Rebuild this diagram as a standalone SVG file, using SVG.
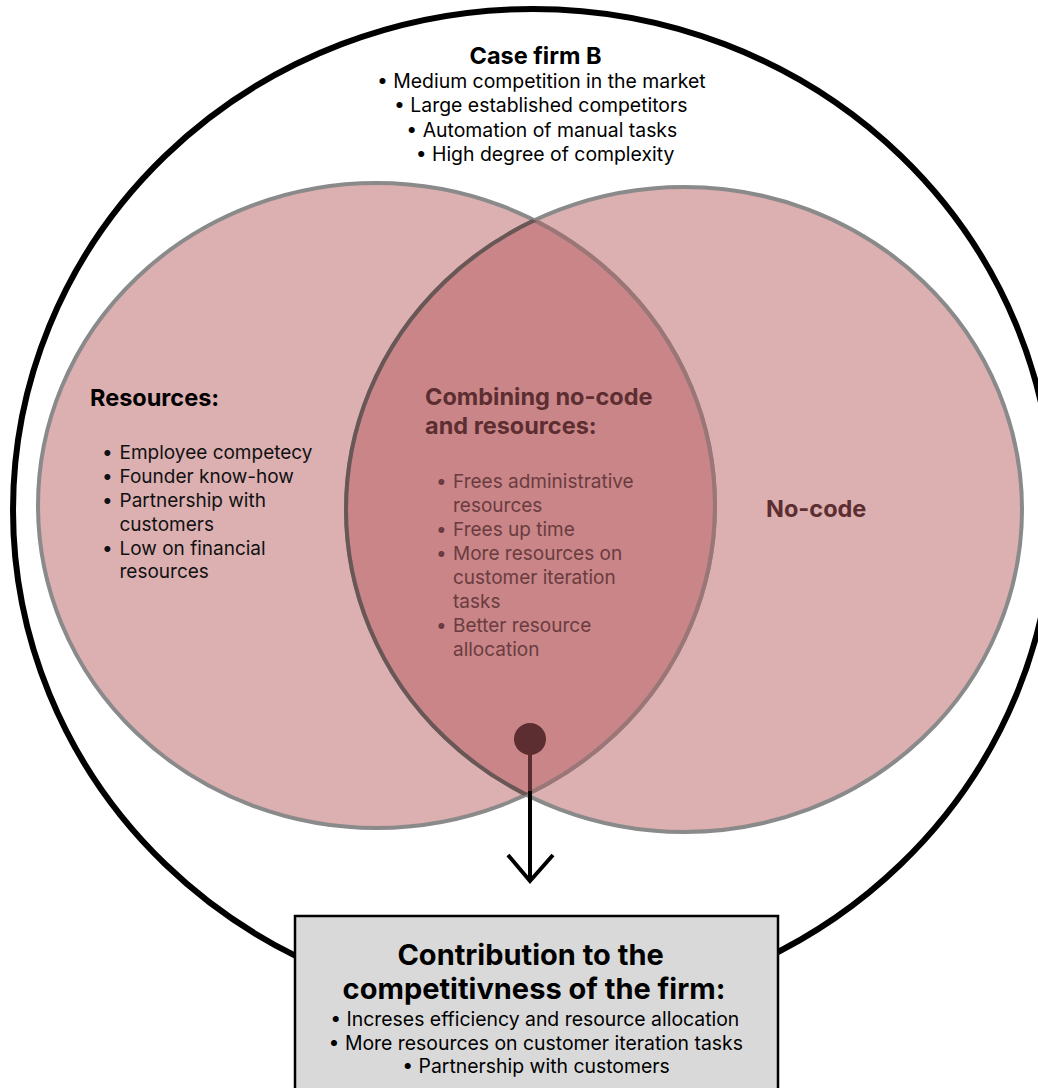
<svg xmlns="http://www.w3.org/2000/svg" width="1038" height="1088" viewBox="0 0 1038 1088">
  <defs>
    <style>
      text { font-family: Inter, "Noto Sans", "Liberation Sans", sans-serif; }
      .ttl { font-weight: 700; fill: #000; }
      .body { font-size: 19.4px; fill: #000; }
      .list { font-size: 19px; fill: #111; }
      .maroon { fill: #5c2e31; }
      .lens-body { font-size: 19px; fill: #6a3c3f; }
      .set { fill: #dcafb1; }
      .set-edge { fill: none; stroke: #8a8a8a; stroke-width: 4; }
    </style>
    <clipPath id="inLeft">
      <ellipse cx="376.5" cy="505.5" rx="338.5" ry="322.5"/>
    </clipPath>
    <clipPath id="inRight">
      <ellipse cx="684" cy="509.5" rx="338" ry="322.5"/>
    </clipPath>
  </defs>

  <rect width="1038" height="1088" fill="#fff"/>

  <!-- outer boundary: the firm -->
  <g id="firm">
    <ellipse cx="533" cy="510" rx="520" ry="501" fill="#fff" stroke="#000" stroke-width="6"/>
    <text class="ttl" x="535.5" y="64" font-size="23.5" text-anchor="middle">Case firm B</text>
    <text class="body" text-anchor="middle">
      <tspan x="544" y="88">•  Medium competition in the market</tspan>
      <tspan x="543.5" y="112">•  Large established competitors</tspan>
      <tspan x="544.5" y="137">•  Automation of manual tasks</tspan>
      <tspan x="545" y="161">•  High degree of complexity</tspan>
    </text>
  </g>

  <!-- left set: resources -->
  <g id="resources">
    <ellipse class="set" cx="376.5" cy="505.5" rx="338.5" ry="322.5"/>
  </g>

  <!-- right set: no-code -->
  <g id="nocode">
    <ellipse class="set" cx="684" cy="509.5" rx="338" ry="322.5"/>
  </g>

  <!-- overlap of both sets -->
  <g id="overlap">
    <ellipse cx="684" cy="509.5" rx="338" ry="322.5" fill="#c98587" clip-path="url(#inLeft)"/>
    <ellipse class="set-edge" cx="376.5" cy="505.5" rx="338.5" ry="322.5"/>
    <ellipse class="set-edge" cx="684" cy="509.5" rx="338" ry="322.5"/>
    <ellipse cx="376.5" cy="505.5" rx="338.5" ry="322.5" fill="none" stroke="#9c7677" stroke-width="4" clip-path="url(#inRight)"/>
    <ellipse cx="684" cy="509.5" rx="338" ry="322.5" fill="none" stroke="#6b5656" stroke-width="4" clip-path="url(#inLeft)"/>
  </g>

  <!-- set labels -->
  <g id="resources-label">
    <text class="ttl" x="90" y="406" font-size="23.5">Resources:</text>
    <text class="list">
      <tspan x="102" y="459">•</tspan><tspan x="119.5" y="459">Employee competecy</tspan>
      <tspan x="102" y="483">•</tspan><tspan x="119.5" y="483">Founder know-how</tspan>
      <tspan x="102" y="507">•</tspan><tspan x="119.5" y="507">Partnership with</tspan>
      <tspan x="119.5" y="531">customers</tspan>
      <tspan x="102" y="555">•</tspan><tspan x="119.5" y="555">Low on financial</tspan>
      <tspan x="119.5" y="578">resources</tspan>
    </text>
  </g>

  <g id="overlap-label">
    <text class="ttl maroon" font-size="23.5">
      <tspan x="425" y="405">Combining no-code</tspan>
      <tspan x="425" y="434">and resources:</tspan>
    </text>
    <text class="lens-body">
      <tspan x="436" y="488">•</tspan><tspan x="453" y="488">Frees administrative</tspan>
      <tspan x="453" y="512">resources</tspan>
      <tspan x="436" y="536">•</tspan><tspan x="453" y="536">Frees up time</tspan>
      <tspan x="436" y="560">•</tspan><tspan x="453" y="560">More resources on</tspan>
      <tspan x="453" y="584">customer iteration</tspan>
      <tspan x="453" y="608">tasks</tspan>
      <tspan x="436" y="632">•</tspan><tspan x="453" y="632">Better resource</tspan>
      <tspan x="453" y="656">allocation</tspan>
    </text>
  </g>

  <g id="nocode-label">
    <text class="ttl maroon" x="766" y="517" font-size="23.5">No-code</text>
  </g>

  <!-- connector from overlap to the outcome box -->
  <g id="connectors">
    <line x1="530" y1="740" x2="530" y2="791" stroke="#5c2e31" stroke-width="4"/>
    <line x1="530" y1="791" x2="530" y2="881" stroke="#000" stroke-width="4"/>
    <polyline points="508,855 530,881 553,855" fill="none" stroke="#000" stroke-width="4" stroke-linejoin="miter"/>
    <circle cx="530" cy="739" r="16" fill="#5c2e31"/>
  </g>

  <!-- outcome box -->
  <g id="contribution">
    <rect x="295" y="916" width="483" height="200" fill="#d9d9d9" stroke="#000" stroke-width="2.5"/>
    <text class="ttl" font-size="29" text-anchor="middle">
      <tspan x="534" y="965">Contribution to the</tspan>
      <tspan x="534" y="999">competitivness of the firm:</tspan>
    </text>
    <text class="body" text-anchor="middle">
      <tspan x="537.5" y="1026">•  Increses efficiency and resource allocation</tspan>
      <tspan x="538.5" y="1050">•  More resources on customer iteration tasks</tspan>
      <tspan x="536" y="1073">•  Partnership with customers</tspan>
    </text>
  </g>
</svg>
